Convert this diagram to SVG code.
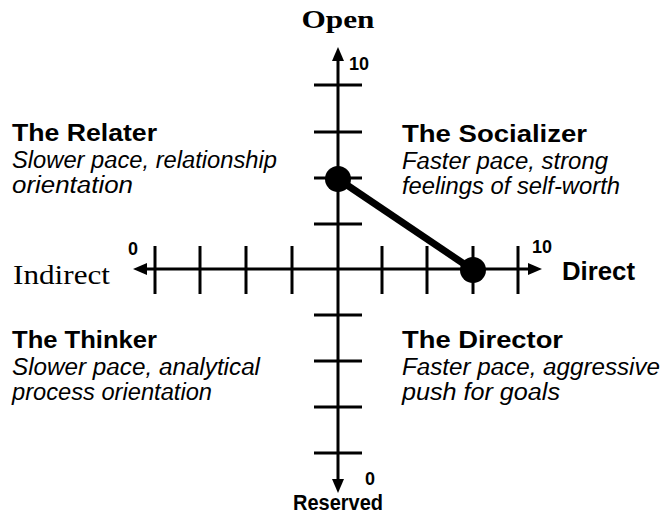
<svg xmlns="http://www.w3.org/2000/svg" width="661" height="514" viewBox="0 0 661 514">
<style>
.ax{stroke:#000;stroke-width:3;fill:none}
.tk{stroke:#000;stroke-width:3}
.title{font-family:"Liberation Sans",Arial,sans-serif;font-weight:bold;font-size:24px;fill:#000}
.desc{font-family:"Liberation Sans",Arial,sans-serif;font-style:italic;font-size:23px;fill:#000}
.num{font-family:"Liberation Sans",Arial,sans-serif;font-weight:bold;font-size:18px;fill:#000}
.serif{font-family:"Liberation Serif","Times New Roman",serif;fill:#000}
.sans{font-family:"Liberation Sans",Arial,sans-serif;font-weight:bold;fill:#000}
</style>
<defs>
<marker id="arr" markerUnits="userSpaceOnUse" markerWidth="15" markerHeight="12" refX="0" refY="6" orient="auto-start-reverse">
<path d="M0,0 L14,6 L0,12 z" fill="#000"/>
</marker>
</defs>
<rect width="661" height="514" fill="#fff"/>
<g id="connectors">
<line class="ax" x1="147" y1="269" x2="528" y2="269" marker-start="url(#arr)" marker-end="url(#arr)"/>
<line class="ax" x1="338" y1="479" x2="338" y2="61" marker-start="url(#arr)" marker-end="url(#arr)"/>
<g class="tk">
<line x1="155" y1="246" x2="155" y2="294"/>
<line x1="200" y1="246" x2="200" y2="294"/>
<line x1="246" y1="246" x2="246" y2="294"/>
<line x1="292" y1="246" x2="292" y2="294"/>
<line x1="382" y1="246" x2="382" y2="294"/>
<line x1="427" y1="246" x2="427" y2="294"/>
<line x1="473" y1="246" x2="473" y2="294"/>
<line x1="518" y1="246" x2="518" y2="294"/>
<line x1="314" y1="85" x2="362" y2="85"/>
<line x1="314" y1="132" x2="362" y2="132"/>
<line x1="314" y1="178" x2="362" y2="178"/>
<line x1="314" y1="224" x2="362" y2="224"/>
<line x1="314" y1="315" x2="362" y2="315"/>
<line x1="314" y1="361" x2="362" y2="361"/>
<line x1="314" y1="407" x2="362" y2="407"/>
<line x1="314" y1="453" x2="362" y2="453"/>
</g>
<line x1="338" y1="179" x2="473" y2="270" stroke="#000" stroke-width="7"/>
</g>
<g id="point-open"><circle cx="338" cy="179" r="13" fill="#000"/></g>
<g id="point-direct"><circle cx="473" cy="270" r="13" fill="#000"/></g>
<g id="axis-labels">
<text class="serif" x="338" y="28" font-size="25" font-weight="bold" text-anchor="middle" textLength="73" lengthAdjust="spacingAndGlyphs">Open</text>
<text class="num" x="349" y="70">10</text>
<text class="num" x="128" y="255">0</text>
<text class="num" x="532" y="253">10</text>
<text class="num" x="365" y="485">0</text>
<text class="serif" x="13" y="284" font-size="28" textLength="97" lengthAdjust="spacingAndGlyphs">Indirect</text>
<text class="sans" x="562" y="280" font-size="25" textLength="73" lengthAdjust="spacingAndGlyphs">Direct</text>
<text class="sans" x="338" y="510" font-size="22" text-anchor="middle" textLength="90" lengthAdjust="spacingAndGlyphs">Reserved</text>
</g>
<g id="relater">
<text class="title" x="12" y="141" textLength="145" lengthAdjust="spacingAndGlyphs">The Relater</text>
<text class="desc" x="12" y="168" textLength="265" lengthAdjust="spacingAndGlyphs">Slower pace, relationship</text>
<text class="desc" x="12" y="193" textLength="121" lengthAdjust="spacingAndGlyphs">orientation</text>
</g>
<g id="socializer">
<text class="title" x="402" y="142" textLength="185" lengthAdjust="spacingAndGlyphs">The Socializer</text>
<text class="desc" x="402" y="169" textLength="206" lengthAdjust="spacingAndGlyphs">Faster pace, strong</text>
<text class="desc" x="402" y="194" textLength="218" lengthAdjust="spacingAndGlyphs">feelings of self-worth</text>
</g>
<g id="thinker">
<text class="title" x="12" y="348" textLength="145" lengthAdjust="spacingAndGlyphs">The Thinker</text>
<text class="desc" x="12" y="375" textLength="248" lengthAdjust="spacingAndGlyphs">Slower pace, analytical</text>
<text class="desc" x="12" y="400" textLength="200" lengthAdjust="spacingAndGlyphs">process orientation</text>
</g>
<g id="director">
<text class="title" x="402" y="348" textLength="161" lengthAdjust="spacingAndGlyphs">The Director</text>
<text class="desc" x="402" y="375" textLength="258" lengthAdjust="spacingAndGlyphs">Faster pace, aggressive</text>
<text class="desc" x="402" y="400" textLength="158" lengthAdjust="spacingAndGlyphs">push for goals</text>
</g>
</svg>
